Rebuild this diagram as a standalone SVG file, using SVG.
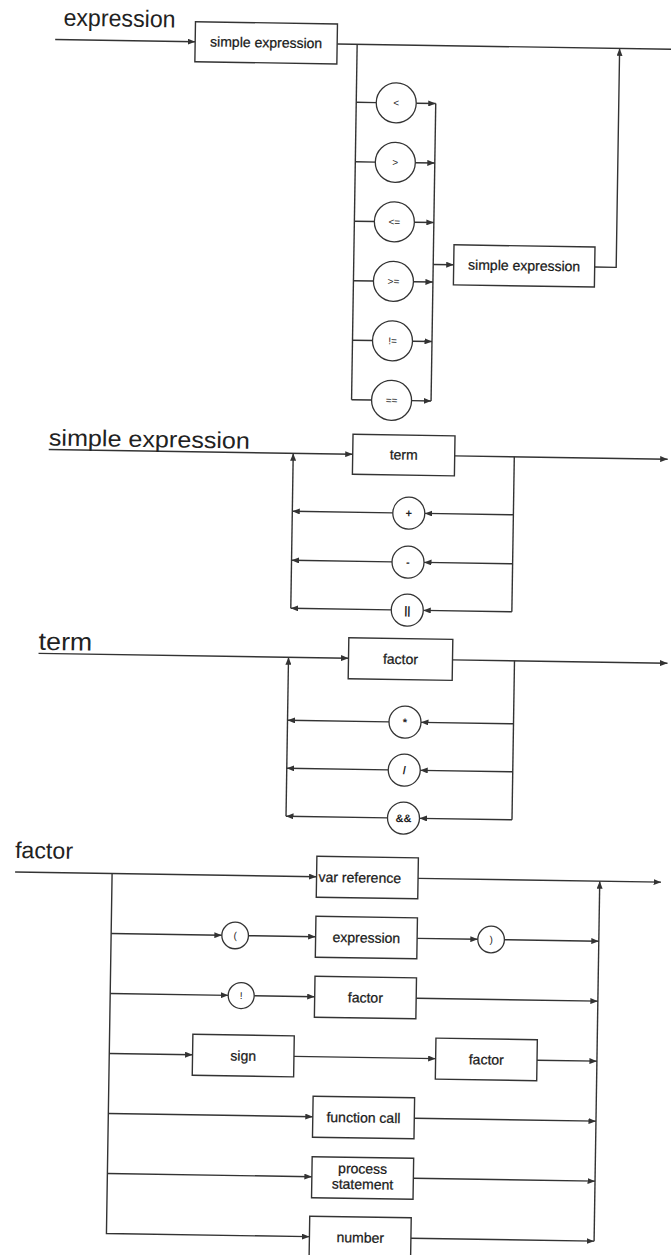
<svg xmlns="http://www.w3.org/2000/svg" width="671" height="1255" viewBox="0 0 671 1255">
<defs>
<marker id="arr" markerWidth="8" markerHeight="6" refX="7.5" refY="3" orient="auto" markerUnits="userSpaceOnUse"><path d="M0,0 L7.5,3 L0,6 z" fill="#333"/></marker>
<style>
.ln{fill:none;stroke:#333;stroke-width:1.4}
.bx{fill:#fff;stroke:#333;stroke-width:1.4}
.ci{fill:#fff;stroke:#333;stroke-width:1.3}
.t{font-family:"Liberation Sans",Arial,sans-serif;font-size:14px;fill:#1a1a1a;stroke:#1a1a1a;stroke-width:0.25;text-anchor:middle}
.op{font-family:"Liberation Sans",Arial,sans-serif;font-size:10px;fill:#222;text-anchor:middle}
.op2{font-family:"Liberation Sans",Arial,sans-serif;font-size:11px;font-weight:bold;fill:#222;text-anchor:middle}
.ti{font-family:"Liberation Sans",Arial,sans-serif;fill:#222}
</style>
</defs>
<rect x="0" y="0" width="671" height="1255" fill="#fff"/>
<g transform="rotate(0.9 335 627)">
<g id="connectors">
<path class="ln" d="M46,44 H186" marker-end="url(#arr)"/>
<path class="ln" d="M328,44 H690"/>
<path class="ln" d="M348,44 V399.5"/>
<path class="ln" d="M348,102 H368"/><path class="ln" d="M408,102 H427.5" marker-end="url(#arr)"/>
<path class="ln" d="M348,161.5 H368"/><path class="ln" d="M408,161.5 H427.5" marker-end="url(#arr)"/>
<path class="ln" d="M348,221 H368"/><path class="ln" d="M408,221 H427.5" marker-end="url(#arr)"/>
<path class="ln" d="M348,280.5 H368"/><path class="ln" d="M408,280.5 H427.5" marker-end="url(#arr)"/>
<path class="ln" d="M348,340 H368"/><path class="ln" d="M408,340 H427.5" marker-end="url(#arr)"/>
<path class="ln" d="M348,399.5 H368"/><path class="ln" d="M408,399.5 H427.5" marker-end="url(#arr)"/>
<path class="ln" d="M427.5,102 V399.5"/>
<path class="ln" d="M427.5,263 H448" marker-end="url(#arr)"/>
<path class="ln" d="M589,263 H610.5 V44" marker-end="url(#arr)"/>
<path class="ln" d="M46,454 H350" marker-end="url(#arr)"/>
<path class="ln" d="M452,454 H665" marker-end="url(#arr)"/>
<path class="ln" d="M511.6,454 V609"/>
<path class="ln" d="M511.6,512 H423" marker-end="url(#arr)"/><path class="ln" d="M391,512 H290.5" marker-end="url(#arr)"/>
<path class="ln" d="M511.6,561 H423" marker-end="url(#arr)"/><path class="ln" d="M391,561 H290.5" marker-end="url(#arr)"/>
<path class="ln" d="M511.6,609 H423" marker-end="url(#arr)"/><path class="ln" d="M391,609 H290.5" marker-end="url(#arr)"/>
<path class="ln" d="M290.5,609 V454" marker-end="url(#arr)"/>
<path class="ln" d="M39,658 H349" marker-end="url(#arr)"/>
<path class="ln" d="M453,658 H668" marker-end="url(#arr)"/>
<path class="ln" d="M515,658 V817"/>
<path class="ln" d="M515,721 H422.5" marker-end="url(#arr)"/><path class="ln" d="M390.5,721 H289" marker-end="url(#arr)"/>
<path class="ln" d="M515,769 H422.5" marker-end="url(#arr)"/><path class="ln" d="M390.5,769 H289" marker-end="url(#arr)"/>
<path class="ln" d="M515,817 H422.5" marker-end="url(#arr)"/><path class="ln" d="M390.5,817 H289" marker-end="url(#arr)"/>
<path class="ln" d="M289,817 V658" marker-end="url(#arr)"/>
<path class="ln" d="M19,877 H320.5" marker-end="url(#arr)"/>
<path class="ln" d="M422,877 H665" marker-end="url(#arr)"/>
<path class="ln" d="M116,877 V1237 H319" marker-end="url(#arr)"/>
<path class="ln" d="M603.7,1237 V877" marker-end="url(#arr)"/>
<path class="ln" d="M116,937 H226.7" marker-end="url(#arr)"/>
<path class="ln" d="M253.3,937 H320.5" marker-end="url(#arr)"/>
<path class="ln" d="M422,937 H482.7" marker-end="url(#arr)"/>
<path class="ln" d="M509.3,937 H603.7" marker-end="url(#arr)"/>
<path class="ln" d="M116,997 H234" marker-end="url(#arr)"/>
<path class="ln" d="M260,997 H320.5" marker-end="url(#arr)"/>
<path class="ln" d="M422,997 H603.7" marker-end="url(#arr)"/>
<path class="ln" d="M116,1057 H199.3" marker-end="url(#arr)"/>
<path class="ln" d="M300.7,1057 H442.4" marker-end="url(#arr)"/>
<path class="ln" d="M543.8,1057 H603.7" marker-end="url(#arr)"/>
<path class="ln" d="M116,1117 H320.5" marker-end="url(#arr)"/>
<path class="ln" d="M422,1117 H603.7" marker-end="url(#arr)"/>
<path class="ln" d="M116,1177 H320.5" marker-end="url(#arr)"/>
<path class="ln" d="M422,1177 H603.7" marker-end="url(#arr)"/>
<path class="ln" d="M420.5,1237 H603.7" marker-end="url(#arr)"/>
</g>

<g id="title-expression"><text class="ti" x="54" y="30" font-size="24" textLength="112" lengthAdjust="spacingAndGlyphs">expression</text></g>
<g id="title-simple-expression"><text class="ti" x="46" y="450" font-size="23" textLength="201" lengthAdjust="spacingAndGlyphs">simple expression</text></g>
<g id="title-term"><text class="ti" x="39" y="654.5" font-size="25" textLength="53.5" lengthAdjust="spacingAndGlyphs">term</text></g>
<g id="title-factor"><text class="ti" x="18.6" y="863" font-size="23" textLength="58" lengthAdjust="spacingAndGlyphs">factor</text></g>

<g id="e-simple1"><rect class="bx" x="186" y="24" width="142" height="40"/><text class="t" x="257" y="48.5">simple expression</text></g>
<g id="e-lt"><circle class="ci" cx="388" cy="102" r="20"/><text class="op" x="388" y="105.5">&lt;</text></g>
<g id="e-gt"><circle class="ci" cx="388" cy="161.5" r="20"/><text class="op" x="388" y="165">&gt;</text></g>
<g id="e-le"><circle class="ci" cx="388" cy="221" r="20"/><text class="op" x="388" y="224.5">&lt;=</text></g>
<g id="e-ge"><circle class="ci" cx="388" cy="280.5" r="20"/><text class="op" x="388" y="284">&gt;=</text></g>
<g id="e-ne"><circle class="ci" cx="388" cy="340" r="20"/><text class="op" x="388" y="343.5">!=</text></g>
<g id="e-eq"><circle class="ci" cx="388" cy="399.5" r="20"/><text class="op" x="388" y="403">==</text></g>
<g id="e-simple2"><rect class="bx" x="448" y="243" width="141" height="40"/><text class="t" x="518.5" y="267.5">simple expression</text></g>

<g id="s-term"><rect class="bx" x="350" y="434" width="102" height="40"/><text class="t" x="401" y="458.5">term</text></g>
<g id="s-plus"><circle class="ci" cx="407" cy="512" r="16"/><text class="op2" x="407" y="516">+</text></g>
<g id="s-minus"><circle class="ci" cx="407" cy="561" r="16"/><text class="op2" x="407" y="565">-</text></g>
<g id="s-or"><circle class="ci" cx="407" cy="609" r="16"/><text class="op2" x="407" y="613">||</text></g>

<g id="t-factor"><rect class="bx" x="349" y="637.5" width="104" height="41"/><text class="t" x="401" y="663">factor</text></g>
<g id="t-mul"><circle class="ci" cx="406.5" cy="721" r="16"/><text class="op2" x="406.5" y="725">*</text></g>
<g id="t-div"><circle class="ci" cx="406.5" cy="769" r="16"/><text class="op2" x="406.5" y="773">/</text></g>
<g id="t-and"><circle class="ci" cx="406.5" cy="817" r="16"/><text class="op2" x="406.5" y="821">&amp;&amp;</text></g>

<g id="f-varref"><rect class="bx" x="320.5" y="856.5" width="101.5" height="41"/><text class="t" x="322.5" y="882" style="text-anchor:start">var reference</text></g>
<g id="f-lparen"><circle class="ci" cx="240" cy="937" r="13.3"/><text class="op" x="240" y="940.5">(</text></g>
<g id="f-expression"><rect class="bx" x="320.5" y="916.5" width="101.5" height="41"/><text class="t" x="371.2" y="942">expression</text></g>
<g id="f-rparen"><circle class="ci" cx="496" cy="937" r="13.3"/><text class="op" x="496" y="940.5">)</text></g>
<g id="f-not"><circle class="ci" cx="247" cy="997" r="13"/><text class="op" x="247" y="1000.5">!</text></g>
<g id="f-factor1"><rect class="bx" x="320.5" y="976.5" width="101.5" height="41"/><text class="t" x="371.2" y="1002">factor</text></g>
<g id="f-sign"><rect class="bx" x="199.3" y="1036.5" width="101.4" height="41"/><text class="t" x="250" y="1062">sign</text></g>
<g id="f-factor2"><rect class="bx" x="442.4" y="1036.5" width="101.4" height="41"/><text class="t" x="493.1" y="1062">factor</text></g>
<g id="f-funcall"><rect class="bx" x="320.5" y="1096.5" width="101.5" height="41"/><text class="t" x="371.2" y="1122">function call</text></g>
<g id="f-process"><rect class="bx" x="320.5" y="1157" width="101.5" height="41"/><text class="t" x="371.2" y="1173">process</text><text class="t" x="371.2" y="1188.6">statement</text></g>
<g id="f-number"><rect class="bx" x="319" y="1216.5" width="101.5" height="41"/><text class="t" x="369.8" y="1242">number</text></g>
</g>
</svg>
